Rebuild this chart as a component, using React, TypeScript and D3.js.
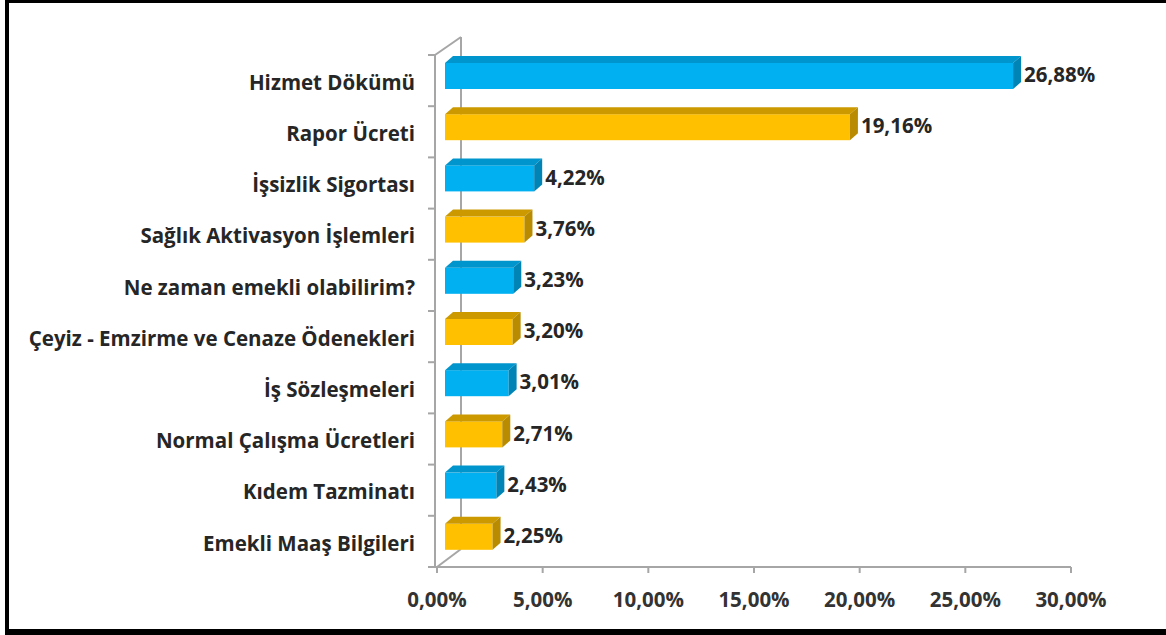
import React from "react";
import * as d3 from "d3";

const categories = [
  "Hizmet Dökümü",
  "Rapor Ücreti",
  "İşsizlik Sigortası",
  "Sağlık Aktivasyon İşlemleri",
  "Ne zaman emekli olabilirim?",
  "Çeyiz - Emzirme ve Cenaze Ödenekleri",
  "İş Sözleşmeleri",
  "Normal Çalışma Ücretleri",
  "Kıdem Tazminatı",
  "Emekli Maaş Bilgileri",
];
const values = [26.88, 19.16, 4.22, 3.76, 3.23, 3.2, 3.01, 2.71, 2.43, 2.25];
const xTicks = [0, 5, 10, 15, 20, 25, 30];

const palettes = [
  { front: "#00B0F0", top: "#0095CC", side: "#0083B5" },
  { front: "#FFC000", top: "#CC9A00", side: "#B88B00" },
];

const fmt = (v: number) => v.toFixed(2).replace(".", ",") + "%";

export default function App() {
  const W = 1166, H = 635;
  const x = d3.scaleLinear().domain([0, 30]).range([437, 1071]);
  const y = d3.scaleBand<string>().domain(categories).range([55, 567]);
  const bw = y.bandwidth();
  const depthX = 24, depthY = -18;
  const font = "'Open Sans', sans-serif";
  const axisColor = "#A6A6A6";
  const fs = 20.5;

  return (
    <svg width={W} height={H} style={{ position: "absolute", left: 0, top: 0, background: "#fff" }}
      fontFamily={font}>
      <rect x={0} y={0} width={W} height={H} fill="#fff" />
      {/* frame */}
      <rect x={5} y={0} width={4} height={H} fill="#000" />
      <rect x={5} y={0} width={W} height={3} fill="#000" />
      <rect x={5} y={629} width={W} height={6} fill="#000" />

      {/* 3D walls */}
      <line x1={x(0) + depthX} x2={x(0) + depthX} y1={55 + depthY} y2={567 + depthY} stroke={axisColor} strokeWidth={2} />
      <line x1={x(0) - 2} y1={55} x2={x(0) + depthX} y2={55 + depthY} stroke={axisColor} strokeWidth={2} />
      <line x1={x(0)} y1={567} x2={x(0) + depthX} y2={567 + depthY} stroke={axisColor} strokeWidth={2} />

      {/* left axis */}
      <line x1={x(0) - 2} x2={x(0) - 2} y1={55} y2={567} stroke={axisColor} strokeWidth={2} />
      {d3.range(categories.length + 1).map((i) => {
        const yy = 55 + i * bw;
        return <line key={"lt" + i} x1={x(0) - 9} x2={x(0) - 2} y1={yy} y2={yy} stroke={axisColor} strokeWidth={2} />;
      })}

      {/* bottom axis */}
      <line x1={x(0) - 2} x2={x(30)} y1={567} y2={567} stroke={axisColor} strokeWidth={2} />
      {xTicks.map((t) => (
        <g key={"xt" + t}>
          <line x1={x(t)} x2={x(t)} y1={567} y2={573} stroke={axisColor} strokeWidth={2} />
          <text x={x(t)} y={607} textAnchor="middle" fontSize={fs} fontWeight="bold" fill="#333">
            {fmt(t)}
          </text>
        </g>
      ))}

      {/* bars */}
      {categories.map((c, i) => {
        const p = palettes[i % 2];
        const top = (y(c) as number) + 8;
        const bot = (y(c) as number) + 34;
        const x0 = x(0) + 8;
        const x1 = x(values[i]) + 8;
        const dx = 8, dy = -7;
        return (
          <g key={c}>
            <rect x={x0} y={top} width={x1 - x0} height={bot - top} fill={p.front} />
            <polygon points={`${x0},${top} ${x0 + dx},${top + dy} ${x1 + dx},${top + dy} ${x1},${top}`} fill={p.top} />
            <polygon points={`${x1},${top} ${x1 + dx},${top + dy} ${x1 + dx},${bot + dy} ${x1},${bot}`} fill={p.side} />
            <text x={x1 + dx + 3} y={(top + bot) / 2 - 1} dy="0.35em" fontSize={fs} fontWeight="bold" fill="#262626">
              {fmt(values[i])}
            </text>
            <text x={415} y={(y(c) as number) + bw / 2 + 2} dy="0.35em" textAnchor="end" fontSize={fs} fontWeight="bold" fill="#262626">
              {c}
            </text>
          </g>
        );
      })}
    </svg>
  );
}
